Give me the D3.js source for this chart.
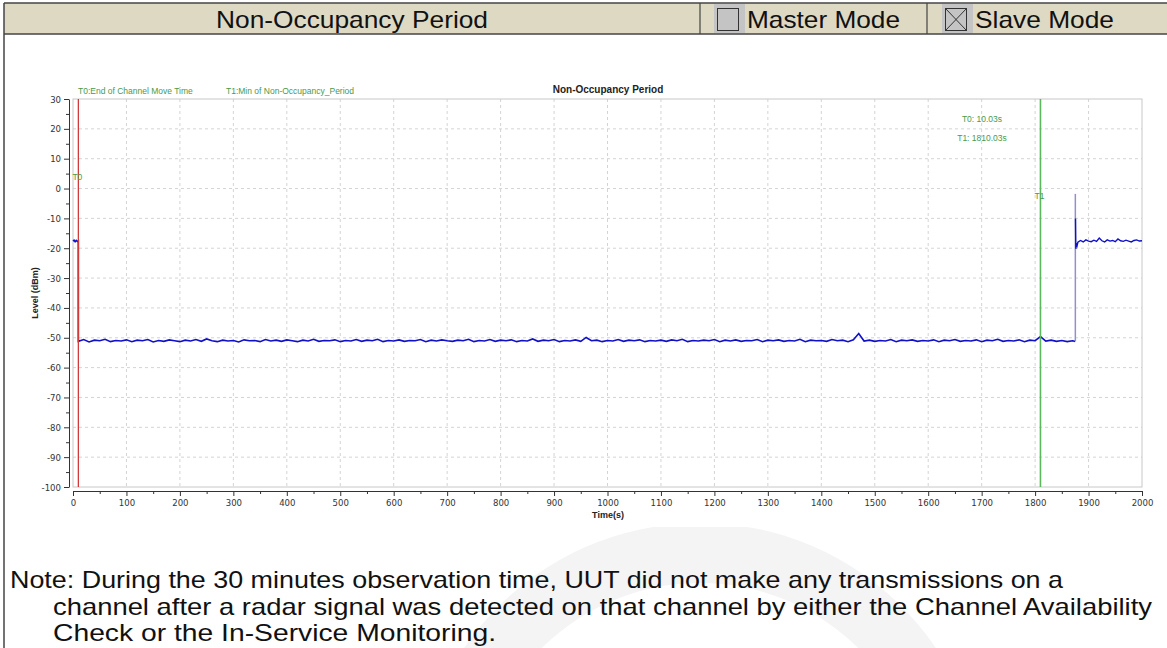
<!DOCTYPE html>
<html><head><meta charset="utf-8">
<script src="https://cdn.jsdelivr.net/npm/d3@7/dist/d3.min.js"></script>
<style>
body{margin:0;background:#fff;}
svg{display:block;font-family:"Liberation Sans",Arial,sans-serif;}
</style></head>
<body>
<svg id="c" width="1167" height="648"></svg>
<script>
// ---------------- data ----------------
const headerTitle = "Non-Occupancy Period";
const modeLabels = ["Master Mode", "Slave Mode"];
const modeChecked = [false, true];
const chartTitle = "Non-Occupancy Period";
const xLabel = "Time(s)";
const yLabel = "Level (dBm)";
const xTicks = [0,100,200,300,400,500,600,700,800,900,1000,1100,1200,1300,1400,1500,1600,1700,1800,1900,2000];
const yTicks = [30,20,10,0,-10,-20,-30,-40,-50,-60,-70,-80,-90,-100];
const markerNames = ["T0", "T1"];
const markerTimes = [10.03, 1810.03];
const markerDescriptions = ["T0:End of Channel Move Time", "T1:Min of Non-Occupancy_Period"];
const markerReadouts = ["T0: 10.03s", "T1: 1810.03s"];

// signal before channel move
const preTimes  = [0, 2, 4, 6, 8, 10];
const preLevels = [-17.6, -17.3, -17.8, -17.4, -17.7, -17.5];
// non-occupancy period, every 10 s from 10 s to 1870 s
const midLevels = [
 -51.2,-50.6,-51.4,-50.8,-51.0,-50.5,-51.3,-50.9,-51.1,-50.7,
 -51.3,-50.8,-51.0,-50.6,-51.4,-50.9,-51.2,-50.7,-51.0,-51.3,
 -50.8,-51.1,-50.6,-51.2,-50.4,-51.0,-51.3,-50.8,-51.1,-50.9,
 -51.4,-50.7,-51.0,-50.9,-51.3,-50.6,-51.1,-50.8,-51.2,-50.7,
 -51.0,-51.3,-50.8,-51.1,-50.5,-51.2,-50.9,-51.0,-50.7,-51.3,
 -50.9,-51.1,-50.6,-51.2,-50.8,-51.0,-50.5,-51.3,-50.9,-51.1,
 -50.7,-51.2,-50.9,-51.0,-50.6,-51.3,-50.8,-51.1,-50.7,-51.0,
 -51.2,-50.8,-51.0,-50.5,-51.3,-50.9,-51.1,-50.6,-51.2,-50.8,
 -51.0,-50.7,-51.3,-50.9,-51.1,-50.4,-51.2,-50.8,-51.0,-50.6,
 -51.3,-50.9,-51.1,-50.7,-51.2,-49.9,-51.0,-50.8,-51.3,-50.9,
 -51.1,-50.6,-51.2,-50.8,-51.0,-50.7,-51.3,-50.9,-51.1,-50.8,
 -51.2,-50.7,-51.0,-50.5,-51.3,-50.9,-51.1,-50.8,-51.0,-50.6,
 -51.3,-50.8,-51.1,-50.7,-51.2,-50.9,-51.0,-50.6,-51.3,-50.8,
 -51.0,-50.7,-51.2,-50.9,-51.1,-50.5,-51.3,-50.8,-51.0,-50.9,
 -51.2,-50.6,-51.0,-50.8,-51.3,-50.7,-48.6,-51.1,-50.8,-51.2,
 -50.9,-51.1,-50.6,-51.3,-50.8,-51.0,-50.7,-51.2,-50.9,-51.1,
 -50.7,-51.3,-50.8,-51.0,-50.6,-51.2,-50.9,-51.1,-50.7,-51.3,
 -50.8,-51.0,-50.5,-51.2,-50.9,-51.1,-50.7,-51.3,-50.8,-51.0,
 -49.6,-51.1,-50.8,-51.2,-50.9,-51.3,-51.0
];
const midStart = 10.03, midStep = 10;
const midEndTimes  = [1875.0];
const midEndLevels = [-51.2];
// switch-on spike
const spikeTimes  = [1875.3, 1875.3];
const spikeLevels = [-51.2, -1.8];
// signal after transmission resumes
const postTimes  = [1875.6, 1876.2, 1877, 1878.5, 1880,
  1885,1890,1895,1900,1905,1910,1915,1920,1925,1930,1935,1940,1945,1950,1955,1960,1965,1970,1975,1980,1985,1990,1995,2000];
const postLevels = [-10, -20.2, -18.6, -19.2, -18.0,
  -17.4,-17.9,-17.2,-17.6,-17.8,-17.3,-17.7,-16.6,-17.5,-17.9,-17.2,-17.6,-17.4,-17.8,-16.9,-17.5,-17.7,-17.3,-17.6,-17.9,-17.4,-17.2,-17.6,-17.5];
const noteLines = [
  "Note: During the 30 minutes observation time, UUT did not make any transmissions on a",
  "channel after a radar signal was detected on that channel by either the Channel Availability",
  "Check or the In-Service Monitoring."
];

// ---------------- drawing ----------------
const svg = d3.select("#c");
const fitText = (sel, w) => { sel.attr("textLength", w).attr("lengthAdjust", "spacingAndGlyphs"); };

// watermark (behind chart)
const wm = svg.append("g").attr("fill", "#f4f4f4");
wm.append("path").attr("d", d3.arc()({innerRadius: 225, outerRadius: 285, startAngle: -Math.PI*0.62, endAngle: Math.PI*0.42}))
  .attr("transform", "translate(700,808)");

// chart white box
svg.append("rect").attr("x", 6).attr("y", 36).attr("width", 1161).attr("height", 491).attr("fill", "#fff");

// header
const hdr = svg.append("g");
hdr.append("rect").attr("x", 4).attr("y", 3).attr("width", 1170).attr("height", 31).attr("fill", "#ddd9c3");
hdr.append("line").attr("x1", 4).attr("x2", 1167).attr("y1", 3).attr("y2", 3).attr("stroke", "#444").attr("stroke-width", 1.5);
hdr.append("line").attr("x1", 4).attr("x2", 1167).attr("y1", 34).attr("y2", 34).attr("stroke", "#444").attr("stroke-width", 1.5);
svg.append("line").attr("x1", 4).attr("x2", 4).attr("y1", 3).attr("y2", 648).attr("stroke", "#444").attr("stroke-width", 1.5);
[700, 927].forEach(x => hdr.append("line").attr("x1", x).attr("x2", x).attr("y1", 3).attr("y2", 34).attr("stroke", "#444").attr("stroke-width", 1.2));
fitText(hdr.append("text").attr("x", 352).attr("y", 27.5).attr("text-anchor", "middle").attr("font-size", 24).attr("fill", "#111").text(headerTitle), 272);
const boxX = [714, 942];
const modeTextW = [153, 139];
modeLabels.forEach((lab, i) => {
  const bx = boxX[i];
  hdr.append("rect").attr("x", bx).attr("y", 4).attr("width", 31).attr("height", 29).attr("fill", "#c4c4c4");
  hdr.append("rect").attr("x", bx + 3.5).attr("y", 8.5).attr("width", 21).attr("height", 22).attr("fill", "#c4c4c4").attr("stroke", "#333").attr("stroke-width", 1);
  if (modeChecked[i]) {
    hdr.append("path").attr("d", `M${bx+3.5},8.5L${bx+24.5},30.5M${bx+24.5},8.5L${bx+3.5},30.5`).attr("stroke", "#333").attr("stroke-width", 1);
  }
  fitText(hdr.append("text").attr("x", bx + 33).attr("y", 27.5).attr("font-size", 24).attr("fill", "#111").text(lab), modeTextW[i]);
});

// scales
const x = d3.scaleLinear().domain([0, 2000]).range([73, 1142]);
const y = d3.scaleLinear().domain([-100, 30]).range([487, 99]);
const plot = svg.append("g");

// grid
plot.append("g").selectAll("line").data(xTicks.filter(v => v > 0 && v < 2000)).join("line")
  .attr("x1", d => x(d)).attr("x2", d => x(d)).attr("y1", y(30)).attr("y2", y(-100))
  .attr("stroke", "#d4d4d4").attr("stroke-dasharray", "3,3").attr("stroke-width", 1);
plot.append("g").selectAll("line").data(yTicks.filter(v => v > -100 && v < 30)).join("line")
  .attr("x1", x(0)).attr("x2", x(2000)).attr("y1", d => y(d)).attr("y2", d => y(d))
  .attr("stroke", "#d4d4d4").attr("stroke-dasharray", "3,3").attr("stroke-width", 1);
plot.append("rect").attr("x", x(0)).attr("y", y(30)).attr("width", x(2000) - x(0)).attr("height", y(-100) - y(30))
  .attr("fill", "none").attr("stroke", "#c8c8c8").attr("stroke-width", 1);

// axes
const fmt = d => String(d);
const yMinor = d3.range(-100, 31, 5).filter(v => v % 10 !== 0);
const xMinor = d3.range(0, 2001, 50).filter(v => v % 100 !== 0);
const yAx = plot.append("g").attr("transform", "translate(69,0)");
yAx.call(d3.axisLeft(y).tickValues(yTicks).tickFormat(fmt).tickSize(5).tickSizeOuter(0).tickPadding(3));
yAx.append("g").call(d3.axisLeft(y).tickValues(yMinor).tickSize(3).tickFormat("")).select(".domain").remove();
const xAx = plot.append("g").attr("transform", "translate(0,491)");
xAx.call(d3.axisBottom(x).tickValues(xTicks).tickFormat(fmt).tickSize(5).tickSizeOuter(0).tickPadding(3));
xAx.append("g").call(d3.axisBottom(x).tickValues(xMinor).tickSize(3).tickFormat("")).select(".domain").remove();
[yAx, xAx].forEach(g => {
  g.selectAll("text").attr("font-family", "'Liberation Sans Narrow', 'DejaVu Sans Condensed', Arial, sans-serif").attr("font-size", 9.5).attr("fill", "#333");
  g.selectAll("path,line").attr("stroke", "#333");
});

// titles
svg.append("text").attr("x", 608).attr("y", 93).attr("text-anchor", "middle").attr("font-size", 10).attr("font-weight", "bold").attr("fill", "#222").text(chartTitle);
svg.append("text").attr("x", 608).attr("y", 518).attr("text-anchor", "middle").attr("font-size", 9).attr("font-weight", "bold").attr("fill", "#222").text(xLabel);
svg.append("text").attr("transform", "translate(38,293) rotate(-90)").attr("text-anchor", "middle").attr("font-size", 9).attr("font-weight", "bold").attr("fill", "#222").text(yLabel);

// marker description labels
const green = "#4a9a4a";
svg.append("text").attr("x", 78).attr("y", 94).attr("font-size", 8.5).attr("fill", green).text(markerDescriptions[0]);
svg.append("text").attr("x", 226).attr("y", 94).attr("font-size", 8.5).attr("fill", green).text(markerDescriptions[1]);
svg.append("text").attr("x", 982).attr("y", 122).attr("text-anchor", "middle").attr("font-size", 8.5).attr("fill", green).text(markerReadouts[0]);
svg.append("text").attr("x", 982).attr("y", 141).attr("text-anchor", "middle").attr("font-size", 8.5).attr("fill", green).text(markerReadouts[1]);

// data line
const line = d3.line().x(d => x(d[0])).y(d => y(d[1]));
const midTimes = midLevels.map((_, i) => midStart + i * midStep);
const mainPts = [].concat(
  preTimes.map((t, i) => [t, preLevels[i]]),
  midTimes.map((t, i) => [t, midLevels[i]]),
  midEndTimes.map((t, i) => [t, midEndLevels[i]])
);
plot.append("path").datum(mainPts).attr("d", line).attr("fill", "none").attr("stroke", "#1010c8").attr("stroke-width", 1.6);
plot.append("path").datum(spikeTimes.map((t, i) => [t, spikeLevels[i]])).attr("d", line).attr("fill", "none").attr("stroke", "#9090cc").attr("stroke-width", 1.5);
plot.append("path").datum(postTimes.map((t, i) => [t, postLevels[i]])).attr("d", line).attr("fill", "none").attr("stroke", "#1010c8").attr("stroke-width", 1.4);

// marker lines
const markerColors = ["#d03a3a", "#5cb85c"];
markerTimes.forEach((t, i) => {
  plot.append("line").attr("x1", x(t)).attr("x2", x(t)).attr("y1", y(30)).attr("y2", y(-100))
    .attr("stroke", markerColors[i]).attr("stroke-width", i ? 1.6 : 1.3);
});
svg.append("text").attr("x", x(markerTimes[0]) - 1).attr("y", 180).attr("text-anchor", "middle").attr("font-size", 8.5).attr("fill", green).text(markerNames[0]);
svg.append("text").attr("x", x(markerTimes[1]) - 1).attr("y", 199).attr("text-anchor", "middle").attr("font-size", 8.5).attr("fill", green).text(markerNames[1]);

// note
const note = svg.append("g").attr("font-size", 24).attr("fill", "#111");
const noteX = [10, 53, 53];
const noteW = [1053, 1099, 443];
noteLines.forEach((l, i) => fitText(note.append("text").attr("x", noteX[i]).attr("y", 588 + i * 26.5).text(l), noteW[i]));
</script>
</body></html>
